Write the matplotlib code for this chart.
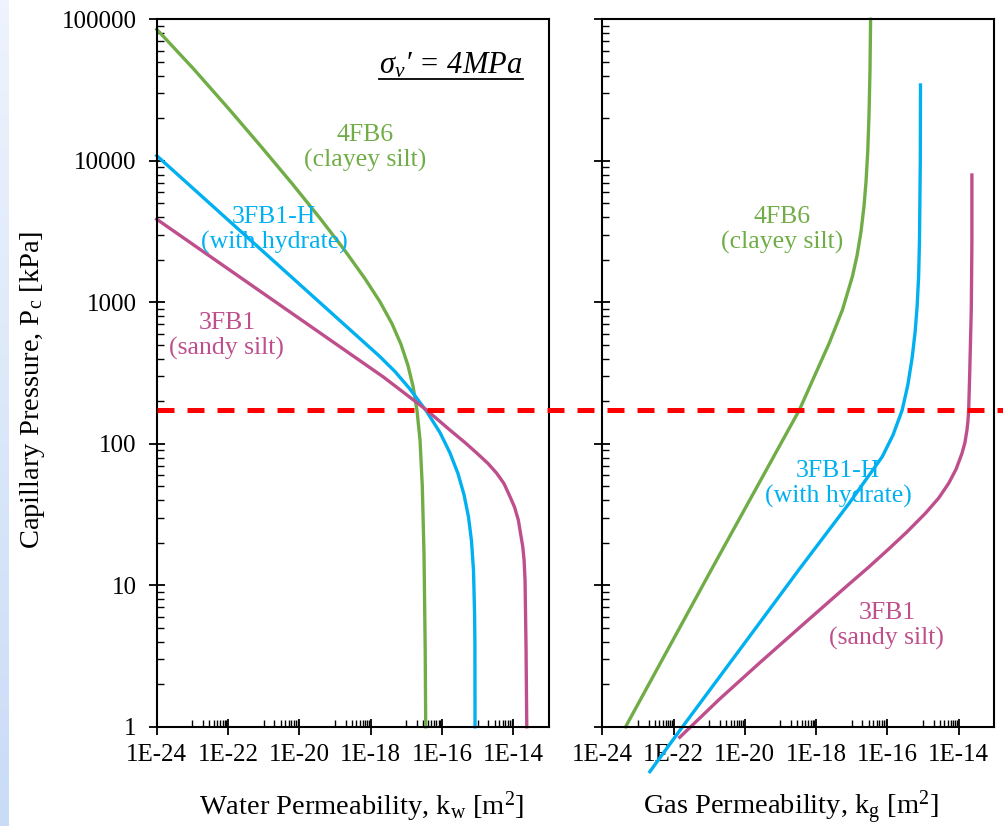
import numpy as np
import matplotlib.pyplot as plt
from matplotlib.lines import Line2D
from matplotlib.colors import LinearSegmentedColormap

plt.rcParams['font.family'] = 'Liberation Serif'
plt.rcParams['mathtext.fontset'] = 'custom'
plt.rcParams['mathtext.rm'] = 'Liberation Serif'
plt.rcParams['mathtext.it'] = 'Liberation Serif:italic'

# ---- data ----
# water permeability [m2] vs capillary pressure [kPa]
kw_4fb6 = [1.0e-24, 1.04e-23, 1.13e-22, 8.93e-22, 6.20e-21, 3.78e-20, 1.90e-19, 6.92e-19,
           1.82e-18, 3.96e-18, 7.08e-18, 1.11e-17, 1.54e-17, 1.99e-17, 2.42e-17, 2.80e-17,
           3.13e-17, 3.38e-17, 3.49e-17]
pcw_4fb6 = [85000, 45100, 22800, 12400, 6920, 3930, 2317, 1469, 1009, 706, 504, 358, 255,
            172, 106, 50.3, 16.6, 3.48, 1.0]

kw_3fb1h = [1.0e-24, 2.86e-21, 1.82e-18, 4.81e-18, 1.26e-17, 3.72e-17, 8.79e-17, 1.67e-16,
            2.81e-16, 4.14e-16, 5.53e-16, 6.71e-16, 7.65e-16, 8.20e-16, 8.37e-16, 8.43e-16]
pcw_3fb1h = [10870, 1786, 413, 324, 244, 169, 120, 86.3, 61.5, 43.7, 30.4, 20.6, 12.6,
             6.17, 3.74, 1.0]

kw_3fb1 = [1.0e-24, 2.86e-21, 2.25e-18, 3.72e-17, 1.67e-16, 4.42e-16, 9.40e-16, 1.95e-15,
           3.42e-15, 5.48e-15, 8.07e-15, 1.08e-14, 1.38e-14, 1.84e-14, 2.0e-14, 2.13e-14,
           2.27e-14, 2.38e-14]
pcw_3fb1 = [3865, 957, 297, 173, 125, 102, 86.1, 72.6, 61.9, 52.3, 42.3, 35.7, 28.9, 18.7,
            15.1, 10.9, 3.66, 1.0]

# gas permeability [m2] vs capillary pressure [kPa]
kg_4fb6 = [4.51e-24, 1.17e-21, 3.37e-19, 8.83e-19, 2.32e-18, 5.47e-18, 1.04e-17, 1.41e-17,
           1.82e-17, 2.21e-17, 2.51e-17, 2.81e-17, 3.05e-17, 3.25e-17, 3.38e-17]
pcg_4fb6 = [1.0, 13.0, 173, 298, 513, 883, 1517, 2143, 3162, 4797, 7080, 11650, 21100,
            43800, 100000]

kg_3fb1h = [2.16e-23, 1.58e-22, 7.08e-21, 3.37e-19, 8.41e-18, 7.18e-17, 1.43e-16, 2.60e-16,
            3.75e-16, 4.94e-16, 6.0e-16, 6.82e-16, 7.52e-16, 7.96e-16, 8.39e-16, 8.49e-16]
pcg_3fb1h = [0.482, 0.96, 3.49, 13.0, 37.9, 81.1, 115, 173, 261, 404, 617, 931, 1517,
             2754, 10130, 34350]

kg_3fb1 = [1.49e-22, 1.95e-21, 2.56e-20, 5.18e-19, 8.41e-18, 3.05e-17, 1.10e-16, 3.52e-16,
           1.17e-15, 2.76e-15, 5.25e-15, 8.51e-15, 1.24e-14, 1.50e-14, 1.71e-14, 1.82e-14,
           1.91e-14, 2.03e-14, 2.26e-14, 2.35e-14, 2.35e-14]
pcg_3fb1 = [0.843, 1.57, 2.82, 5.51, 10.2, 13.5, 18.1, 23.8, 32.3, 41.4, 52.6, 66.4, 85.7,
            102, 125, 145, 173, 298, 883, 2612, 7940]

p_ref = 173  # red dashed line [kPa]

x_ticks = [1e-24, 1e-22, 1e-20, 1e-18, 1e-16, 1e-14]
x_labels = ['1E-24', '1E-22', '1E-20', '1E-18', '1E-16', '1E-14']
y_ticks = [1, 10, 100, 1000, 10000, 100000]
y_labels = ['1', '10', '100', '1000', '10000', '100000']

c_green = '#70AD47'
c_blue = '#00B0F0'
c_pink = '#BE4F8C'

W, H = 1004, 826
fig = plt.figure(figsize=(W / 100, H / 100), dpi=100)

# light blue strip on the left edge (slide background)
bg = fig.add_axes([0, 0, 9 / W, 1])
strip = LinearSegmentedColormap.from_list('strip', ['#eef3fd', '#c9dcf6'])
bg.imshow(np.linspace(0, 1, 100).reshape(-1, 1), cmap=strip, aspect='auto',
          extent=[0, 1, 0, 1], origin='upper')
bg.axis('off')

ax1 = fig.add_axes([156.7 / W, 1 - 726.8 / H, 392.3 / W, 707.5 / H])
ax2 = fig.add_axes([602.3 / W, 1 - 726.8 / H, 392.0 / W, 707.5 / H])
ax1.set_zorder(2)

x_minor = [k * 10.0 ** e for e in (-23, -21, -19, -17, -15) for k in range(1, 10)]
y_minor = [k * 10.0 ** e for e in range(0, 5) for k in range(2, 10)]

for ax in (ax1, ax2):
    ax.set_xscale('log')
    ax.set_yscale('log')
    ax.set_xlim(1e-24, 1e-13)
    ax.set_ylim(1, 1e5)
    ax.set_xticks(x_ticks)
    ax.set_xticklabels(x_labels)
    ax.set_xticks(x_minor, minor=True)
    ax.set_yticks(y_ticks)
    ax.set_yticklabels(y_labels)
    ax.set_yticks(y_minor, minor=True)
    ax.tick_params(which='major', direction='inout', length=11, width=1.3,
                   labelsize=18, pad=7, color='black')
    ax.tick_params(axis='y', which='major', pad=9)
    ax.tick_params(which='minor', direction='in', length=5, width=1.0)
    ax.xaxis.set_minor_formatter(plt.NullFormatter())
    ax.yaxis.set_minor_formatter(plt.NullFormatter())
    for s in ax.spines.values():
        s.set_linewidth(1.5)
        s.set_color('black')

ax2.tick_params(axis='y', which='both', labelleft=False)

lw = 2.4
ax1.plot(kw_4fb6, pcw_4fb6, color=c_green, lw=lw, clip_on=False)
ax1.plot(kw_3fb1h, pcw_3fb1h, color=c_blue, lw=lw, clip_on=False)
ax1.plot(kw_3fb1, pcw_3fb1, color=c_pink, lw=lw, clip_on=False)

ax2.plot(kg_4fb6, pcg_4fb6, color=c_green, lw=lw, clip_on=False)
ax2.plot(kg_3fb1h, pcg_3fb1h, color=c_blue, lw=lw, clip_on=False)
ax2.plot(kg_3fb1, pcg_3fb1, color=c_pink, lw=lw, clip_on=False)

# red dashed line across both panels
ax1.axhline(p_ref, xmin=0, xmax=(W - 156.7) / 392.3, color='#FF0000', lw=3.6,
            dashes=(3.4, 2.6), clip_on=False, zorder=5)

# labels
fs = 18.5
opts = dict(fontsize=fs, ha='center', va='center', linespacing=1.15)
ax1.text(0.531, 0.818, '4FB6\n(clayey silt)', color=c_green, transform=ax1.transAxes, **opts)
ax1.text(0.299, 0.702, '3FB1-H\n(with hydrate)', color=c_blue, transform=ax1.transAxes, **opts)
ax1.text(0.179, 0.552, '3FB1\n(sandy silt)', color=c_pink, transform=ax1.transAxes, **opts)

ax2.text(0.458, 0.702, '4FB6\n(clayey silt)', color=c_green, transform=ax2.transAxes, **opts)
ax2.text(0.601, 0.343, '3FB1-H\n(with hydrate)', color=c_blue, transform=ax2.transAxes, **opts)
ax2.text(0.726, 0.1425, '3FB1\n(sandy silt)', color=c_pink, transform=ax2.transAxes, **opts)

sig = ax1.text(0.750, 0.924, r'$\sigma_v$' + '\u2032 = 4MPa', fontsize=22,
               fontstyle='italic', ha='center', va='baseline', transform=ax1.transAxes)

ax1.set_ylabel(r'Capillary Pressure, P$_\mathrm{c}$ [kPa]', fontsize=20.5)
ax1.yaxis.set_label_coords(-0.279, 0.476)
ax1.set_xlabel(r'Water Permeability, k$_\mathrm{w}$ [m$^2$]', fontsize=20.5)
ax1.xaxis.set_label_coords(0.522, -0.088)
ax2.set_xlabel(r'Gas Permeability, k$_\mathrm{g}$ [m$^2$]', fontsize=20.5)
ax2.xaxis.set_label_coords(0.48, -0.088)

# underline for the stress annotation
fig.canvas.draw()
bb = sig.get_window_extent()
fig.add_artist(Line2D([bb.x0 / W, bb.x1 / W], [(bb.y0 + 1) / H] * 2,
                      color='black', lw=1.3, transform=fig.transFigure, zorder=10))

fig.savefig('out.png', dpi=100)
